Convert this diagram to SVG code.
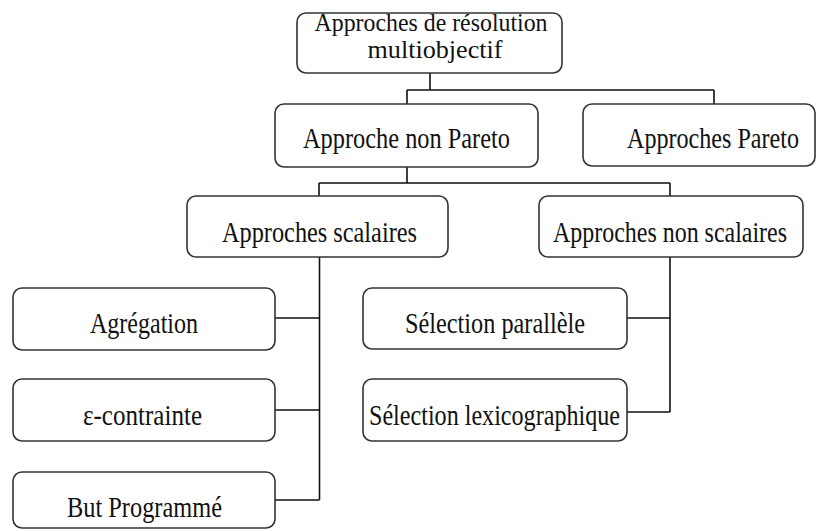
<svg xmlns="http://www.w3.org/2000/svg" width="839" height="531" viewBox="0 0 839 531">
  <style>
    .box { fill: #ffffff; stroke: #333333; stroke-width: 1.6; }
    .lbl { font-family: "Liberation Serif", "Times New Roman", serif; font-size: 29px; fill: #111111; text-anchor: middle; }
    .title { font-size: 25px; }
    .wire { fill: none; stroke: #111111; stroke-width: 1.6; }
  </style>
  <rect width="839" height="531" fill="#ffffff"/>

  <!-- tree connectors -->
  <g id="connectors">
    <path class="wire" d="M430 73 V90 M407 90 H714 M407 90 V104 M714 90 V104"/>
    <path class="wire" d="M407 167 V183 M319 183 H670 M319 183 V196 M670 183 V196"/>
    <path class="wire" d="M319.5 257 V500 M275 318 H319.5 M275 410 H319.5 M275 500 H319.5"/>
    <path class="wire" d="M670 257 V412 M627 318 H670 M627 412 H670"/>
  </g>

  <g id="root">
    <rect class="box" x="297" y="13" width="265" height="60" rx="9"/>
    <text class="lbl title" x="431" y="31" textLength="233" lengthAdjust="spacingAndGlyphs">Approches de résolution</text>
    <text class="lbl title" x="435" y="58" textLength="135" lengthAdjust="spacingAndGlyphs">multiobjectif</text>
  </g>

  <g id="non-pareto">
    <rect class="box" x="275" y="104" width="263" height="63" rx="9"/>
    <text class="lbl" x="406.5" y="148" textLength="207" lengthAdjust="spacingAndGlyphs">Approche non Pareto</text>
  </g>

  <g id="pareto">
    <rect class="box" x="583" y="104" width="232" height="62" rx="9"/>
    <text class="lbl" x="713" y="148" textLength="172" lengthAdjust="spacingAndGlyphs">Approches Pareto</text>
  </g>

  <g id="scalaires">
    <rect class="box" x="187" y="196" width="261" height="61" rx="9"/>
    <text class="lbl" x="319.5" y="242" textLength="195" lengthAdjust="spacingAndGlyphs">Approches scalaires</text>
  </g>

  <g id="non-scalaires">
    <rect class="box" x="539" y="196" width="264" height="61" rx="9"/>
    <text class="lbl" x="670" y="242" textLength="234" lengthAdjust="spacingAndGlyphs">Approches non scalaires</text>
  </g>

  <g id="agregation">
    <rect class="box" x="13" y="288" width="262" height="62" rx="9"/>
    <text class="lbl" x="144" y="333" textLength="108" lengthAdjust="spacingAndGlyphs">Agrégation</text>
  </g>

  <g id="epsilon-contrainte">
    <rect class="box" x="13" y="379" width="262" height="62" rx="9"/>
    <text class="lbl" x="142.5" y="425" textLength="119" lengthAdjust="spacingAndGlyphs">ε-contrainte</text>
  </g>

  <g id="but-programme">
    <rect class="box" x="13" y="472" width="262" height="56" rx="9"/>
    <text class="lbl" x="144.5" y="517" textLength="155" lengthAdjust="spacingAndGlyphs">But Programmé</text>
  </g>

  <g id="selection-parallele">
    <rect class="box" x="363" y="288" width="264" height="61" rx="9"/>
    <text class="lbl" x="495" y="333" textLength="180" lengthAdjust="spacingAndGlyphs">Sélection parallèle</text>
  </g>

  <g id="selection-lexicographique">
    <rect class="box" x="363" y="379" width="264" height="62" rx="9"/>
    <text class="lbl" x="494.5" y="425" textLength="251" lengthAdjust="spacingAndGlyphs">Sélection lexicographique</text>
  </g>
</svg>
